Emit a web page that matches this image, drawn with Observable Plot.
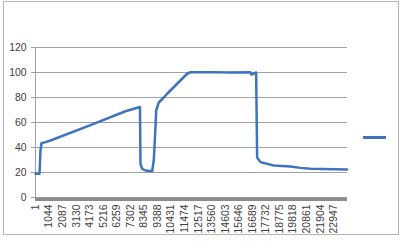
<!DOCTYPE html>
<html>
<head>
<meta charset="utf-8">
<script src="https://cdn.jsdelivr.net/npm/d3@7"></script>
<script src="https://cdn.jsdelivr.net/npm/@observablehq/plot@0.6"></script>
<style>
  html, body { margin: 0; padding: 0; background: #fff; }
  #wrap { position: relative; width: 400px; height: 241px; overflow: hidden; }
  #border { position: absolute; left: 3px; top: 1px; width: 394px; height: 232px; border: 1px solid #b4b4b4; pointer-events: none; }
  #legend { position: absolute; left: 363px; top: 136px; width: 23px; height: 0; border-top: 3px solid #3d74bd; }
</style>
</head>
<body>
<div id="wrap">
  <div id="chart"></div>
  <div id="border"></div>
  <div id="legend"></div>
</div>
<script>
// Sample index (category position) and value
const idx = [1, 308, 385, 461, 769, 1154, 4230, 6921, 7959, 8036, 8075, 8205, 8459, 8974, 9097, 9228, 9282, 9482, 9866, 10128, 11666, 11920, 13500, 15000, 16534, 16600, 16664, 16972, 17049, 17303, 18326, 19610, 20379, 21148, 23970];
const val = [19, 19, 37.6, 43.4, 44.3, 45.6, 57.9, 69, 72.2, 72.2, 27, 23, 21.6, 21, 29.6, 56, 69.6, 76, 80, 83, 99, 100.2, 100.3, 100, 100.2, 98.4, 98.6, 100, 32, 28.3, 25.6, 24.8, 23.7, 23, 22.4];
const totalCount = 24000;
const xTicks = [1, 1044, 2087, 3130, 4173, 5216, 6259, 7302, 8345, 9388, 10431, 11474, 12517, 13560, 14603, 15646, 16689, 17732, 18775, 19818, 20861, 21904, 22947];
const yTicks = [0, 20, 40, 60, 80, 100, 120];

const data = idx.map((i, k) => ({i, v: val[k]}));

const chart = Plot.plot({
  width: 400,
  height: 241,
  marginLeft: 35,
  marginRight: 53,
  marginTop: 47,
  marginBottom: 44,
  style: {fontFamily: "'Liberation Sans', Arial, sans-serif", fontSize: "10.4px", color: "#404040", background: "transparent"},
  x: {domain: [0, totalCount], ticks: xTicks, label: null},
  y: {domain: [0, 120], ticks: yTicks, label: null},
  marks: [
    Plot.gridY(yTicks, {stroke: "#a0a0a0", strokeOpacity: 1, strokeWidth: 1}),
    Plot.ruleX([0], {stroke: "#a0a0a0"}),
    Plot.axisY(yTicks, {tickSize: 4, tickPadding: 5, stroke: "#a0a0a0", fill: "#404040", fontSize: "10.4px", label: null}),
    Plot.ruleY([0], {stroke: "#8c8c8c", strokeWidth: 3.5, dy: 1.7}),
    Plot.axisX(xTicks, {tickSize: 0, tickPadding: 7, tickRotate: -90, fill: "#404040", fontSize: "10.4px", tickFormat: d => String(d), label: null}),
    Plot.line(data, {x: "i", y: "v", stroke: "#3d74bd", strokeWidth: 2.5, strokeLinejoin: "round", strokeLinecap: "round"})
  ]
});
document.getElementById("chart").appendChild(chart);
</script>
</body>
</html>
